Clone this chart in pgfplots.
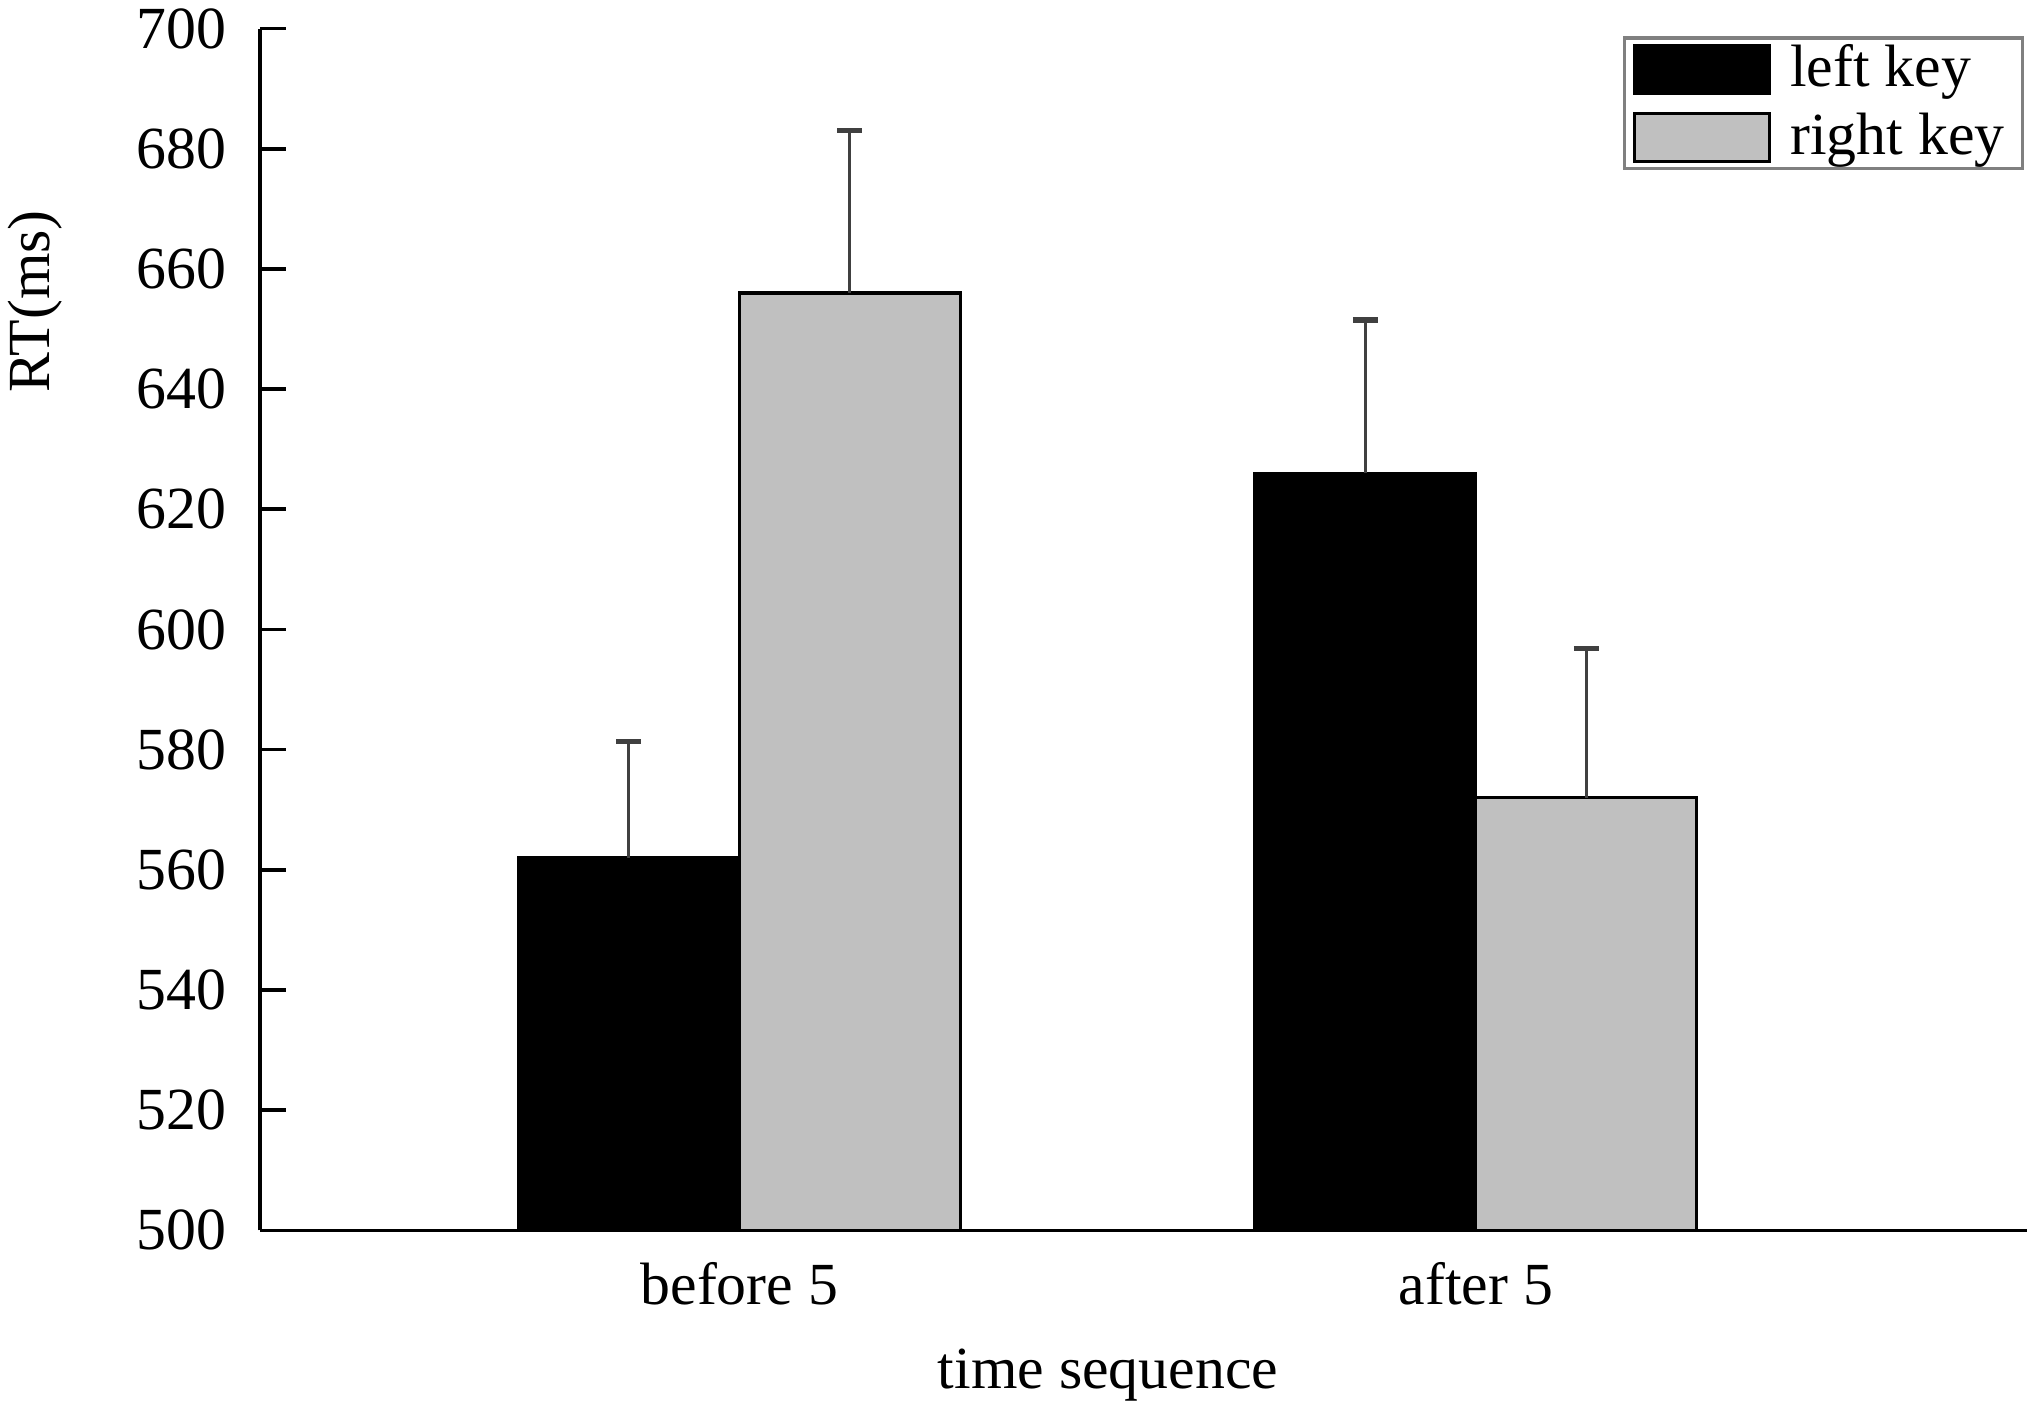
\documentclass[border=0pt]{standalone}
\usepackage{fontspec}
\setmainfont{Liberation Serif}
\usepackage{pgfplots}
\pgfplotsset{compat=1.18}
\definecolor{barg}{RGB}{192,192,192}
\definecolor{errc}{RGB}{64,64,64}
\begin{document}
\begin{tikzpicture}
\path[use as bounding box] (-50pt,-34.5pt) rectangle (341pt,236.75pt);
\begin{axis}[
  at={(0,0)}, anchor=south west,
  scale only axis, width=340pt, height=231.25pt,
  font=\fontsize{11.5}{13}\selectfont,
  /pgf/number format/assume math mode=true,
  ybar=0pt, bar width=42.5pt,
  xmin=-0.651, xmax=1.748,
  ymin=500, ymax=700,
  ytick={500,520,...,700},
  xtick={0,1}, xticklabels={before 5, after 5},
  axis x line=bottom, axis y line=left,
  axis line style={-, line width=0.7pt},
  tick align=inside, major tick length=5pt,
  ytick style={line width=0.7pt, black},
  xtick style={draw=none},
  xticklabel style={yshift=-2.7pt},
  yticklabel style={xshift=-3pt},
  xlabel={time sequence},
  ylabel={RT(ms)},
  xlabel style={at={(axis description cs:0.480,-0.12)}, anchor=center},
  ylabel style={at={(axis description cs:-0.1272,0.773)}, anchor=center},
  legend style={at={(axis description cs:0.9985,0.9935)}, anchor=north east,
    draw=gray, line width=0.6pt, inner xsep=1.5pt, inner ysep=0.9pt, row sep=3pt,
    column sep=1.75pt,
    nodes={inner xsep=2pt, inner ysep=0.3pt},
    font=\fontsize{11.5}{13}\selectfont},
  legend cell align=left,
  legend image code/.code={\draw[#1, line width=0.6pt] (0pt,-4.6pt) rectangle (26pt,4.6pt);},
  error bars/y dir=plus, error bars/y explicit,
  error bars/error bar style={errc, line width=0.6pt},
  error bars/error mark options={rotate=90, errc, mark size=2.4pt, line width=1pt},
]
\addplot[fill=black, draw=black, line width=0.6pt] coordinates {(0,562) +- (0,19.3) (1,626) +- (0,25.5)};
\addplot[fill=barg, draw=black, line width=0.6pt] coordinates {(0,656) +- (0,27) (1,572) +- (0,24.8)};
\legend{left key, right key}
\end{axis}
\end{tikzpicture}
\end{document}
